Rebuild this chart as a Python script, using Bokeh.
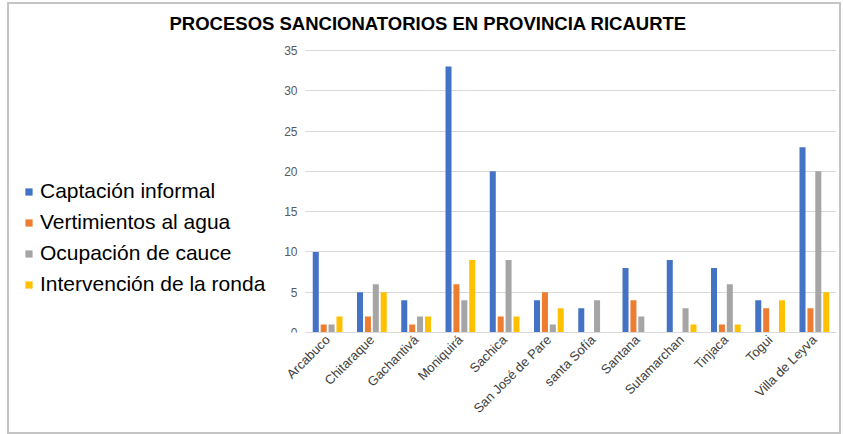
from math import pi
from bokeh.plotting import figure
from bokeh.models import (Range1d, FixedTicker, Legend, LegendItem, LinearAxis,
                          ColumnDataSource, Title, Grid)
from bokeh.transform import dodge
from bokeh.embed import file_html
from bokeh.resources import INLINE

municipios = ["Arcabuco", "Chitaraque", "Gachantivá", "Moniquirá", "Sachica",
              "San José de Pare", "santa Sofía", "Santana", "Sutamarchan",
              "Tinjaca", "Togui", "Villa de Leyva"]
series_names = ["Captación informal", "Vertimientos al agua",
                "Ocupación de cauce", "Intervención de la ronda"]
captacion = [10, 5, 4, 33, 20, 4, 3, 8, 9, 8, 4, 23]
vertimientos = [1, 2, 1, 6, 2, 5, 0, 4, 0, 1, 3, 3]
ocupacion = [1, 6, 2, 4, 9, 1, 4, 2, 3, 6, 0, 20]
intervencion = [2, 5, 2, 9, 2, 3, 0, 0, 1, 1, 4, 5]
y_ticks = [0, 5, 10, 15, 20, 25, 30, 35]
colors = ["#4472C4", "#ED7D31", "#A5A5A5", "#FFC000"]
title_text = "PROCESOS SANCIONATORIOS EN PROVINCIA RICAURTE"

FONT = "Liberation Sans"

# layout (pixels)
FRAME_W, FRAME_H = 827, 294
PLOT_LEFT_PX = 296          # where the category area starts inside the frame
CAT_PX = 44.25              # width of one category in pixels
Y_TOP_PX = 282              # pixel height of 0..35

n = len(municipios)
xc = [i + 0.5 for i in range(n)]
x_start = -PLOT_LEFT_PX / CAT_PX
y_end = y_ticks[-1] * FRAME_H / Y_TOP_PX

source = ColumnDataSource(dict(xc=xc, s0=captacion, s1=vertimientos,
                               s2=ocupacion, s3=intervencion))

p = figure(x_range=Range1d(x_start, n), y_range=Range1d(0, y_end),
           frame_width=FRAME_W, frame_height=FRAME_H,
           min_border_left=0, min_border_right=3,
           min_border_top=34, min_border_bottom=100,
           y_axis_location=None,
           output_backend="svg", toolbar_location=None, title=None)
p.styles = {"border": "2px solid #c4c4c4", "margin-left": "7px",
            "margin-top": "2px"}
p.outline_line_color = None
p.background_fill_color = "white"
p.border_fill_color = "white"
p.xgrid.visible = False
p.ygrid.visible = False

# horizontal grid lines limited to the category area
if "cross_bounds" in Grid.properties():
    g = Grid(dimension=1, ticker=FixedTicker(ticks=y_ticks),
             grid_line_color="#d9d9d9", grid_line_width=1,
             cross_bounds=(0, n))
    p.add_layout(g, "center")
else:
    p.segment(x0=[0] * len(y_ticks), x1=[n] * len(y_ticks), y0=y_ticks,
              y1=y_ticks, line_color="#d9d9d9", line_width=1,
              level="underlay")

offsets = [-0.268, -0.089, 0.089, 0.268]
items = []
for i, name in enumerate(series_names):
    r = p.vbar(x=dodge("xc", offsets[i]), top="s%d" % i,
               width=0.136, source=source, fill_color=colors[i], line_color=None)
    items.append(LegendItem(label=name, renderers=[r]))

legend = Legend(items=items, location=(15, 36), padding=0, margin=0,
                spacing=7, glyph_width=9, glyph_height=9, label_height=22,
                label_standoff=7, label_text_font=FONT,
                label_text_font_size="21px", label_text_color="#000000",
                border_line_color=None, background_fill_alpha=0)
p.add_layout(legend, "center")

t = Title(text=title_text, align="left", offset=160, standoff=10,
          text_font=FONT, text_font_size="18.5px", text_font_style="bold",
          text_color="#000000")
p.add_layout(t, "above")

yaxis = LinearAxis(fixed_location=0, ticker=FixedTicker(ticks=y_ticks))
yaxis.axis_line_color = None
yaxis.major_tick_line_color = None
yaxis.minor_tick_line_color = None
yaxis.major_tick_out = 0
yaxis.major_label_standoff = 8
yaxis.major_label_text_font = FONT
yaxis.major_label_text_font_size = "12px"
yaxis.major_label_text_color = "#595959"
p.add_layout(yaxis, "left")

xa = p.xaxis[0]
xa.ticker = FixedTicker(ticks=xc)
xa.major_label_overrides = {x: name for x, name in zip(xc, municipios)}
xa.bounds = (0, n)
xa.axis_line_color = "#d9d9d9"
xa.major_tick_line_color = None
xa.minor_tick_line_color = None
xa.major_tick_out = 0
xa.major_label_standoff = 5
xa.major_label_orientation = pi / 4
xa.major_label_text_font = FONT
xa.major_label_text_font_size = "13px"
xa.major_label_text_color = "#404040"

open("out.html", "w").write(file_html(p, INLINE))
